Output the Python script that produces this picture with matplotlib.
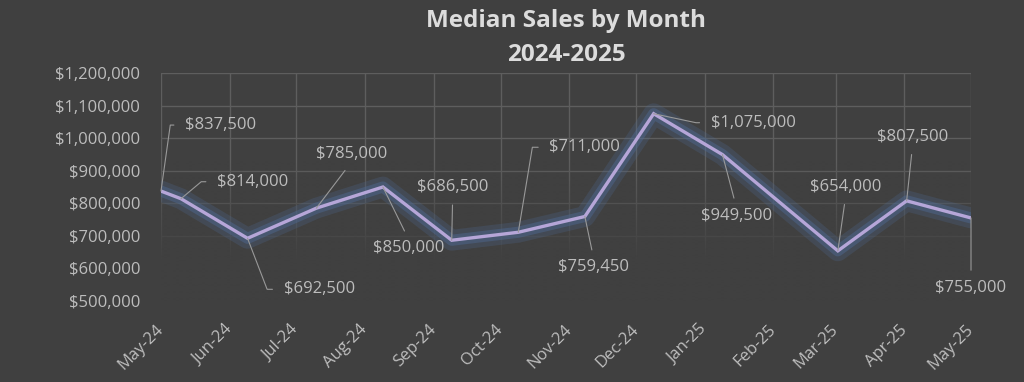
import numpy as np
import pandas as pd
import matplotlib
matplotlib.use('Agg')
import matplotlib.pyplot as plt
import matplotlib.dates as mdates
from matplotlib.colors import to_rgb
from matplotlib.ticker import FuncFormatter, MultipleLocator

# data
sale_dates = pd.to_datetime([
    '2024-05-01', '2024-05-10', '2024-06-09', '2024-07-10', '2024-08-09',
    '2024-09-09', '2024-10-09', '2024-11-08', '2024-12-09', '2025-01-09',
    '2025-03-02', '2025-04-02', '2025-05-01'])
median_price = [837500, 814000, 692500, 785000, 850000, 686500, 711000,
                759450, 1075000, 949500, 654000, 807500, 755000]
tick_months = pd.date_range('2024-05-01', '2025-05-01', freq='MS')

# label placement: (dx, dy in pixels, kind, param)
# kind 'elbow' -> text left of point, param = angle of slanted leader
# kind 'straight' -> text centred, param = relpos on the text box
label_layout = [
    (24, 66, 'elbow', 82),
    (36, 17, 'elbow', 40),
    (36, -51, 'elbow', -69),
    (35, 54, 'straight', (0.5, 0)),
    (26, -61, 'straight', (0.5, 1)),
    (1, 53, 'straight', (0.5, 0)),
    (31, 85, 'elbow', 80.6),
    (9, -51, 'straight', (0.5, 1)),
    (57, -9, 'elbow', -12),
    (14, -61, 'straight', (0.5, 1)),
    (8, 64, 'straight', (0.5, 0)),
    (6, 64, 'straight', (0.5, 0)),
    (0, -70, 'straight', (0.5, 1)),
]

BG = '#404040'
TXT = '#bdbdbd'
plt.rcParams['font.family'] = ['Open Sans', 'DejaVu Sans']

fig = plt.figure(figsize=(10.24, 3.82), dpi=100, facecolor=BG)
ax = fig.add_axes([161 / 1024, 81 / 382, 810 / 1024, 228 / 382])
ax.set_facecolor(BG)

# gridlines that fade out towards the bottom
ax.set_axisbelow(True)
ax.grid(True, color='#5e5e5e', lw=1.0)
ramp = np.clip((0.62 - np.linspace(0, 1, 200)) / 0.45, 0, 1)
fade = np.zeros((200, 1, 4))
fade[:, 0, :3] = to_rgb(BG)
fade[:, 0, 3] = ramp
ax.imshow(fade, extent=[0, 1, 0, 1], transform=ax.transAxes, origin='lower',
          aspect='auto', zorder=1, interpolation='bilinear')

# glow + line
ax.plot(sale_dates, median_price, color='#4f6a94', lw=15, alpha=0.25,
        solid_joinstyle='round', solid_capstyle='round', zorder=2)
ax.plot(sale_dates, median_price, color='#4f6a94', lw=8, alpha=0.45,
        solid_joinstyle='round', solid_capstyle='round', zorder=2)
ax.plot(sale_dates, median_price, color='#b6a6d8', lw=2.4, zorder=3,
        solid_joinstyle='miter')

for d, v, (dx, dy, kind, p) in zip(sale_dates, median_price, label_layout):
    if kind == 'elbow':
        ax.annotate(f'${v:,.0f}', xy=(d, v), xytext=(dx, dy),
                    textcoords='offset pixels', ha='left', va='center',
                    fontsize=12, color=TXT, annotation_clip=False, zorder=4,
                    arrowprops=dict(arrowstyle='-', color='#999999', lw=0.8,
                                    relpos=(0, 0.5), shrinkA=6, shrinkB=0,
                                    connectionstyle=f'angle,angleA=0,angleB={p},rad=0'))
    else:
        ax.annotate(f'${v:,.0f}', xy=(d, v), xytext=(dx, dy),
                    textcoords='offset pixels', ha='center', va='center',
                    fontsize=12, color=TXT, annotation_clip=False, zorder=4,
                    arrowprops=dict(arrowstyle='-', color='#999999', lw=0.8,
                                    relpos=p, shrinkA=5, shrinkB=0))

ax.set_xlim(tick_months[0], tick_months[-1])
ax.set_ylim(500000, 1200000)
ax.yaxis.set_major_locator(MultipleLocator(100000))
ax.yaxis.set_major_formatter(FuncFormatter(lambda v, pos: f'${v:,.0f}'))
ax.set_xticks(tick_months)
ax.xaxis.set_major_formatter(mdates.DateFormatter('%b-%y'))
ax.tick_params(axis='y', length=0, pad=15, labelsize=12, labelcolor=TXT)
ax.tick_params(axis='x', length=0, pad=19, labelsize=12, labelcolor=TXT)
for lbl in ax.get_xticklabels():
    lbl.set_rotation(45)
    lbl.set_ha('right')
    lbl.set_va('center')
    lbl.set_rotation_mode('anchor')
for s in ax.spines.values():
    s.set_visible(False)

fig.text(566 / 1024, 1 - 9 / 382, 'Median Sales by Month\n2024-2025',
         ha='center', va='top', fontsize=17.5, fontweight='bold',
         color='#dcdcdc', linespacing=1.55)

fig.savefig('out.png', dpi=100, facecolor=BG)
